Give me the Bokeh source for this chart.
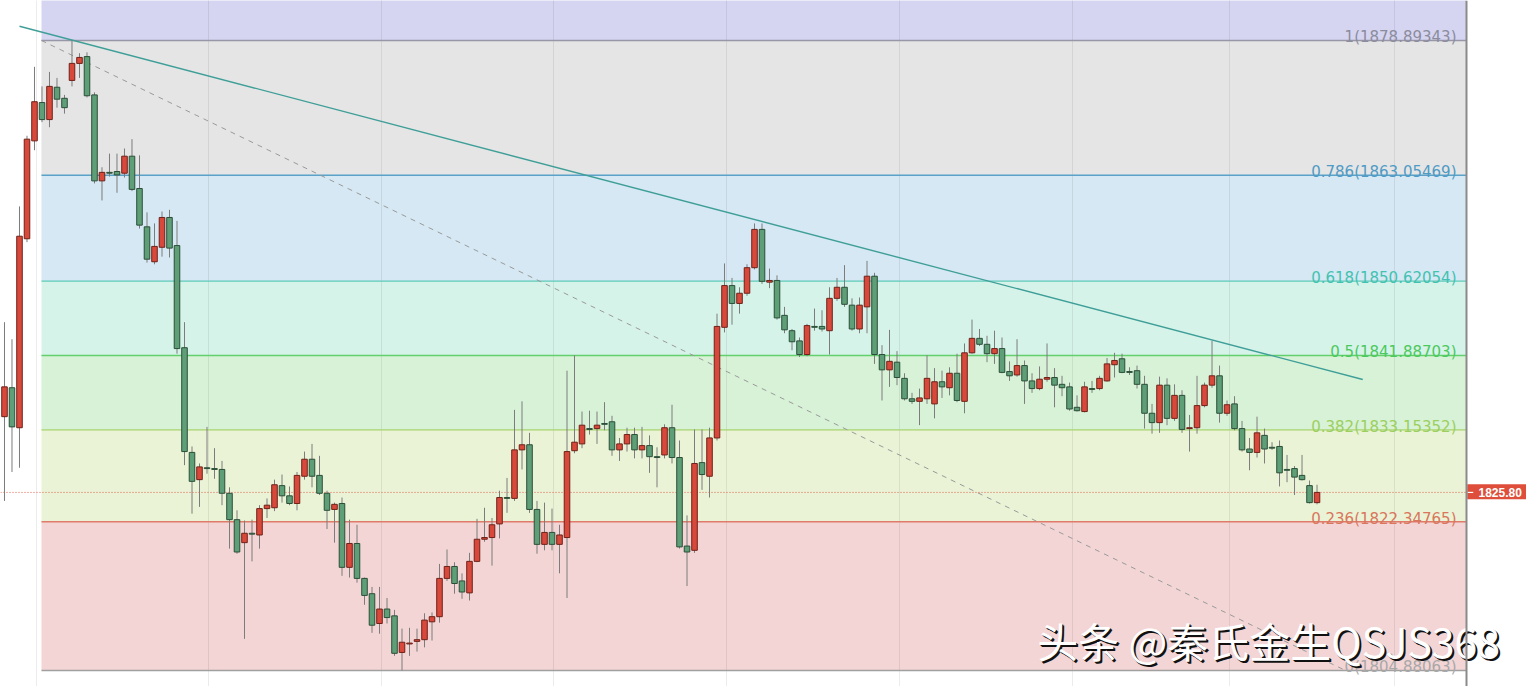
from bokeh.plotting import figure
from bokeh.models import Range1d, Span, ColumnDataSource
from bokeh.core.properties import value
from bokeh.embed import file_html
from bokeh.resources import INLINE

# ---------------- data ----------------
opens = [1834.7, 1838.1, 1833.4, 1855.6, 1867.1, 1871.6, 1869.6, 1873.4, 1872.1, 1874.2,
         1876.2, 1877.0, 1872.5, 1862.4, 1863.4, 1863.5, 1863.3, 1865.3, 1861.5, 1857.0,
         1852.9, 1854.6, 1858.1, 1854.8, 1842.8, 1830.5, 1827.3, 1828.7, 1828.6, 1828.5,
         1825.7, 1822.6, 1819.9, 1821.0, 1820.8, 1823.9, 1824.0, 1826.6, 1825.4, 1824.5,
         1827.7, 1829.7, 1827.8, 1825.7, 1823.8, 1824.5, 1817.0, 1819.8, 1815.7, 1813.9,
         1810.4, 1812.1, 1811.3, 1807.0, 1808.0, 1808.3, 1808.5, 1810.6, 1811.2, 1815.7,
         1817.1, 1815.4, 1814.0, 1817.7, 1820.3, 1820.5, 1822.1, 1825.2, 1825.1, 1830.8,
         1831.4, 1823.8, 1819.7, 1821.1, 1819.7, 1820.5, 1830.7, 1831.5, 1833.3, 1833.3,
         1833.9, 1834.1, 1830.8, 1831.5, 1832.6, 1830.8, 1831.3, 1830.0, 1830.2, 1833.4,
         1829.9, 1819.5, 1819.0, 1829.3, 1827.7, 1832.2, 1845.2, 1850.1, 1848.0, 1849.2,
         1852.2, 1856.7, 1850.5, 1850.7, 1846.6, 1844.8, 1843.6, 1842.0, 1845.3, 1845.3,
         1844.8, 1848.6, 1849.9, 1847.8, 1845.0, 1847.6, 1851.2, 1842.0, 1840.2, 1841.1,
         1839.2, 1836.8, 1836.5, 1836.8, 1836.2, 1838.8, 1838.1, 1839.8, 1836.5, 1842.2,
         1843.9, 1843.2, 1842.1, 1842.7, 1840.0, 1839.6, 1840.7, 1838.9, 1838.0, 1839.1,
         1839.3, 1838.5, 1838.2, 1835.8, 1835.3, 1838.0, 1838.0, 1838.9, 1840.8, 1841.5,
         1840.0, 1840.1, 1838.5, 1835.1, 1834.0, 1838.4, 1834.5, 1837.2, 1833.3, 1833.4,
         1836.0, 1838.4, 1839.5, 1835.1, 1836.2, 1833.3, 1830.9, 1830.5, 1832.5, 1831.1,
         1831.2, 1828.5, 1828.6, 1827.8, 1826.6, 1824.6]
highs = [1845.8, 1843.8, 1859.4, 1867.7, 1875.8, 1873.5, 1875.2, 1874.5, 1872.5, 1878.89,
         1877.4, 1877.5, 1872.8, 1864.0, 1865.6, 1865.6, 1866.2, 1867.3, 1865.4, 1858.7,
         1857.4, 1858.8, 1859.0, 1857.7, 1845.8, 1831.2, 1829.2, 1833.5, 1831.0, 1829.5,
         1826.4, 1823.7, 1822.5, 1822.6, 1824.3, 1825.1, 1827.3, 1827.9, 1826.5, 1828.2,
         1830.6, 1831.5, 1830.1, 1826.0, 1824.6, 1825.2, 1822.6, 1822.0, 1815.8, 1814.7,
         1814.7, 1813.4, 1812.0, 1809.8, 1809.9, 1809.8, 1811.6, 1811.7, 1817.4, 1819.1,
         1817.6, 1816.3, 1818.7, 1822.7, 1824.0, 1822.8, 1826.0, 1827.5, 1835.5, 1836.5,
         1832.8, 1824.8, 1824.6, 1823.9, 1822.0, 1840.1, 1841.9, 1835.3, 1835.4, 1835.3,
         1836.4, 1834.8, 1832.2, 1833.4, 1833.4, 1833.5, 1832.5, 1831.1, 1833.8, 1836.1,
         1831.9, 1823.1, 1833.2, 1833.2, 1833.4, 1846.8, 1852.7, 1851.0, 1849.9, 1852.6,
         1857.4, 1857.4, 1852.1, 1851.3, 1847.6, 1845.0, 1844.0, 1845.6, 1847.4, 1847.2,
         1849.9, 1851.0, 1852.5, 1848.6, 1848.7, 1853.0, 1851.6, 1843.1, 1844.9, 1842.4,
         1839.8, 1837.5, 1838.0, 1841.9, 1840.4, 1840.1, 1840.5, 1842.1, 1843.3, 1846.1,
         1845.0, 1844.2, 1844.8, 1844.0, 1841.2, 1843.8, 1841.3, 1839.8, 1840.6, 1843.3,
         1840.4, 1839.5, 1838.7, 1837.2, 1838.8, 1838.9, 1839.5, 1841.6, 1842.2, 1842.1,
         1840.5, 1840.7, 1839.5, 1836.2, 1839.4, 1839.2, 1838.5, 1837.8, 1834.9, 1839.5,
         1838.7, 1843.6, 1840.7, 1836.6, 1837.1, 1834.2, 1832.2, 1834.7, 1833.3, 1831.7,
         1831.9, 1830.2, 1828.9, 1830.2, 1827.2, 1826.7]
lows = [1824.8, 1828.2, 1828.7, 1855.2, 1866.0, 1869.3, 1868.7, 1871.0, 1870.3, 1873.5,
        1874.5, 1872.2, 1862.1, 1860.1, 1862.9, 1861.0, 1862.8, 1861.2, 1856.8, 1852.8,
        1852.6, 1853.5, 1853.4, 1842.1, 1829.0, 1823.3, 1824.1, 1828.0, 1827.4, 1824.3,
        1819.2, 1818.6, 1808.6, 1817.7, 1819.2, 1822.8, 1823.6, 1824.6, 1824.3, 1823.7,
        1827.3, 1826.4, 1825.5, 1821.5, 1819.9, 1816.0, 1815.8, 1815.2, 1812.6, 1809.3,
        1809.2, 1810.4, 1806.6, 1804.88, 1806.6, 1807.1, 1807.6, 1808.4, 1810.5, 1815.4,
        1813.9, 1813.3, 1813.1, 1817.6, 1820.0, 1817.2, 1820.4, 1823.4, 1824.8, 1828.5,
        1823.4, 1818.6, 1819.0, 1819.0, 1816.3, 1813.4, 1830.4, 1831.0, 1832.6, 1831.5,
        1833.1, 1830.1, 1829.5, 1830.6, 1829.8, 1829.8, 1828.1, 1826.4, 1829.8, 1829.2,
        1819.2, 1814.8, 1818.7, 1826.1, 1825.2, 1831.9, 1844.6, 1845.5, 1846.8, 1848.9,
        1852.0, 1850.3, 1849.8, 1846.1, 1844.5, 1842.5, 1841.7, 1841.8, 1844.8, 1844.7,
        1842.0, 1848.3, 1847.6, 1844.8, 1844.5, 1844.5, 1840.9, 1836.6, 1838.2, 1838.4,
        1836.6, 1836.2, 1833.7, 1836.2, 1834.5, 1836.9, 1837.2, 1836.4, 1835.1, 1842.1,
        1843.0, 1841.1, 1840.9, 1839.8, 1838.9, 1839.4, 1836.2, 1837.5, 1837.8, 1838.8,
        1835.8, 1837.1, 1835.4, 1835.3, 1835.2, 1837.5, 1837.8, 1838.8, 1839.3, 1839.8,
        1839.6, 1838.0, 1833.3, 1832.7, 1832.8, 1833.7, 1834.2, 1832.8, 1830.6, 1832.7,
        1835.8, 1838.1, 1834.0, 1834.8, 1833.1, 1830.6, 1828.4, 1829.9, 1829.2, 1830.8,
        1826.5, 1827.0, 1825.5, 1827.2, 1824.5, 1824.4]
closes = [1838.2, 1833.5, 1855.9, 1867.3, 1871.7, 1869.6, 1873.5, 1872.0, 1871.0, 1876.2,
          1876.9, 1872.4, 1862.4, 1863.4, 1863.3, 1863.1, 1865.3, 1861.4, 1857.2, 1853.2,
          1854.7, 1858.1, 1854.5, 1842.7, 1830.6, 1827.1, 1828.8, 1828.6, 1828.5, 1825.7,
          1822.6, 1818.8, 1821.0, 1820.9, 1823.9, 1824.3, 1826.7, 1825.4, 1824.5, 1827.8,
          1829.7, 1827.7, 1825.7, 1823.7, 1824.4, 1817.0, 1819.8, 1815.7, 1813.7, 1810.2,
          1812.1, 1811.1, 1806.9, 1808.2, 1808.1, 1808.5, 1810.8, 1811.2, 1815.7, 1817.1,
          1815.1, 1814.1, 1817.7, 1820.3, 1820.5, 1822.0, 1825.2, 1825.1, 1830.8, 1831.4,
          1823.8, 1819.7, 1821.1, 1819.7, 1820.8, 1830.6, 1831.7, 1833.7, 1833.2, 1833.7,
          1833.8, 1830.8, 1831.5, 1832.6, 1830.8, 1831.3, 1830.0, 1829.9, 1833.4, 1829.9,
          1819.4, 1818.8, 1829.2, 1827.9, 1832.2, 1845.3, 1850.1, 1848.0, 1849.2, 1852.2,
          1856.7, 1850.6, 1850.7, 1846.3, 1844.9, 1843.5, 1842.0, 1845.4, 1845.2, 1845.0,
          1848.6, 1849.9, 1847.9, 1845.0, 1847.8, 1851.2, 1842.0, 1840.2, 1841.2, 1839.3,
          1836.8, 1836.5, 1836.9, 1839.2, 1838.8, 1838.2, 1839.8, 1836.6, 1842.2, 1843.9,
          1843.2, 1842.1, 1842.7, 1839.9, 1839.5, 1840.7, 1838.9, 1838.0, 1839.1, 1839.3,
          1838.4, 1838.1, 1835.6, 1835.4, 1838.2, 1837.9, 1839.2, 1840.9, 1841.3, 1839.9,
          1839.9, 1838.5, 1835.1, 1834.0, 1838.4, 1834.5, 1837.2, 1833.2, 1833.4, 1836.0,
          1838.4, 1839.5, 1835.1, 1836.1, 1833.3, 1830.8, 1830.5, 1832.8, 1830.9, 1831.0,
          1828.1, 1828.4, 1827.6, 1827.3, 1824.6, 1825.8]

fib_ratios = [1, 0.786, 0.618, 0.5, 0.382, 0.236, 0]
fib_prices = [1878.89343, 1863.05469, 1850.62054, 1841.88703, 1833.15352, 1822.34765, 1804.88063]
last_price = 1825.80
last_label = "1825.80"
watermark = "头条 @秦氏金生QSJS368"

# drawn objects (bar index, price)
trend_start = (2.0, 1880.57)
trend_end = (181.1, 1839.06)
fib_anchor_start = (4.93, 1878.89343)
fib_anchor_end = (178.8, 1804.88063)
grid_idx = [4.27, 27.2, 50.27, 73.2, 96.27, 119.33, 142.4, 163.33, 185.33]

# ---------------- layout / style ----------------
W, H = 1526, 686
x_start, x_end = -0.533, 202.93
y_low, y_high = 1803.0, 1883.59
plot_end = 194.93

band_colors = ["#d5d5f2", "#e5e5e5", "#d5e8f3", "#d6f3ea", "#d8f2d7", "#eaf3d6", "#f3d5d5"]
line_colors = ["#9797a8", "#5aa2c8", "#5ccab9", "#62d06c", "#a6d46c", "#e07a6a", "#a0a0a0"]
label_colors = ["#8c8c9c", "#4f9bc6", "#42c2b0", "#4cc95c", "#9ccf5e", "#d9765c", "#a8a8a8"]
up_fill, up_line = "#d9493b", "#6e2118"
dn_fill, dn_line = "#5f9f78", "#2b4e38"

p = figure(width=W, height=H, x_range=Range1d(x_start, x_end), y_range=Range1d(y_low, y_high),
           output_backend="svg", toolbar_location=None, x_axis_type=None, y_axis_type=None,
           min_border=0, outline_line_color=None, background_fill_color="white",
           border_fill_color="white")

# fib bands
tops = [y_high + 1] + fib_prices[:-1]
p.quad(left=fib_anchor_start[0], right=plot_end, top=tops, bottom=fib_prices,
       fill_color=band_colors, line_color=None)

# vertical grid lines
p.segment(x0=grid_idx, x1=grid_idx, y0=y_low - 1, y1=y_high + 1,
          line_color="#000000", line_alpha=0.08, line_width=1)

# fib level lines
p.segment(x0=fib_anchor_start[0], x1=plot_end, y0=fib_prices, y1=fib_prices,
          line_color=line_colors, line_width=1.4)

# fib labels
fib_texts = [f"{r}({v:.5f})" for r, v in zip(fib_ratios, fib_prices)]
p.text(x=plot_end, y=fib_prices, text=fib_texts, text_color=label_colors,
       text_font=value("DejaVu Sans"), text_font_size="15px", text_align="right",
       text_baseline="alphabetic", x_offset=-10, y_offset=-3)

# fib diagonal (dashed)
p.line(x=[fib_anchor_start[0], fib_anchor_end[0]], y=[fib_anchor_start[1], fib_anchor_end[1]],
       line_color="#9a9a9a", line_width=1, line_dash="5 5")

# trend line
p.line(x=[trend_start[0], trend_end[0]], y=[trend_start[1], trend_end[1]],
       line_color="#3f9f98", line_width=1.4)

# last price dotted line
p.segment(x0=x_start, x1=plot_end, y0=last_price, y1=last_price,
          line_color="#e2604c", line_width=1, line_dash="1 2")

# candles
n = len(opens)
xs = list(range(n))
up = [c >= o for o, c in zip(opens, closes)]
src = ColumnDataSource(dict(
    x=xs, o=opens, h=highs, l=lows, c=closes,
    top=[max(o, c) for o, c in zip(opens, closes)],
    bot=[min(o, c) for o, c in zip(opens, closes)],
    fill=[up_fill if u else dn_fill for u in up],
    edge=[up_line if u else dn_line for u in up],
))
p.segment(x0="x", x1="x", y0="h", y1="l", source=src, line_color="#7c7c7c", line_width=1)
p.vbar(x="x", width=0.74, top="top", bottom="bot", source=src,
       fill_color="fill", line_color="edge", line_width=1)

# right border of the price pane
p.add_layout(Span(location=plot_end, dimension="height", line_color="#8a8a8a", line_width=2))

# last price tag
p.quad(left=plot_end + 0.1, right=x_end + 1, bottom=last_price - 0.8, top=last_price + 0.95,
       fill_color="#de4e3a", line_color=None)
p.segment(x0=plot_end + 0.15, x1=plot_end + 0.9, y0=last_price, y1=last_price,
          line_color="white", line_width=1.2)
p.text(x=plot_end, y=last_price, text=[last_label], text_color="white",
       text_font=value("Liberation Sans"), text_font_style="bold", text_font_size="12px",
       text_align="left", text_baseline="middle", x_offset=12, y_offset=0)

# watermark (shadow + white text)
wm_x, wm_y = 137.7, 1808.45
for dx, dy in [(1, 1), (2, 2)]:
    p.text(x=wm_x, y=wm_y, text=[watermark], text_color="#111111",
           text_font=value("Noto Sans CJK SC"), text_font_size="41px",
           text_align="left", text_baseline="alphabetic", x_offset=dx, y_offset=dy)
p.text(x=wm_x, y=wm_y, text=[watermark], text_color="white",
       text_font=value("Noto Sans CJK SC"), text_font_size="41px",
       text_align="left", text_baseline="alphabetic")

open("out.html", "w").write(file_html(p, INLINE))
